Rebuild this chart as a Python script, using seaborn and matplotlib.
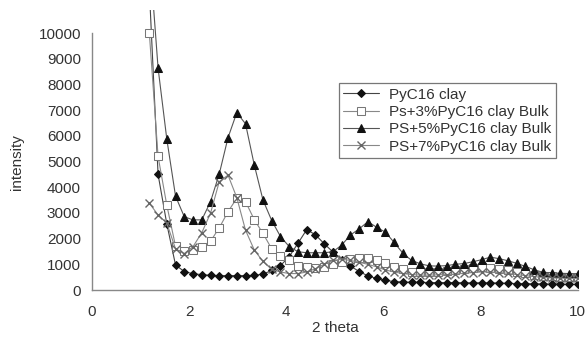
import numpy as np
import pandas as pd
import matplotlib
matplotlib.use("Agg")
import matplotlib.pyplot as plt
import seaborn as sns

two_theta = [1.18, 1.36, 1.54, 1.72, 1.90, 2.08, 2.26, 2.44, 2.62, 2.80,
             2.98, 3.16, 3.34, 3.52, 3.70, 3.88, 4.06, 4.24, 4.42, 4.60,
             4.78, 4.96, 5.14, 5.32, 5.50, 5.68, 5.86, 6.04, 6.22, 6.40,
             6.58, 6.76, 6.94, 7.12, 7.30, 7.48, 7.66, 7.84, 8.02, 8.20,
             8.38, 8.56, 8.74, 8.92, 9.10, 9.28, 9.46, 9.64, 9.82, 10.00]

pyc16_clay = [11700, 4500, 2570, 970, 720, 630, 600, 570, 560, 560,
              560, 560, 570, 620, 760, 950, 1300, 1820, 2350, 2150,
              1800, 1480, 1180, 930, 720, 550, 450, 370, 330, 310,
              300, 300, 290, 290, 290, 290, 280, 280, 280, 280,
              270, 260, 250, 250, 240, 240, 230, 230, 220, 220]

ps3_bulk = [10000, 5200, 3300, 1700, 1500, 1550, 1690, 1900, 2420, 3050,
            3570, 3440, 2740, 2200, 1600, 1320, 1150, 950, 880, 870,
            900, 1000, 1100, 1200, 1250, 1250, 1180, 1050, 900, 800,
            720, 700, 700, 720, 750, 780, 820, 850, 880, 860,
            830, 780, 720, 650, 600, 560, 540, 520, 500, 500]

ps5_bulk = [13200, 8640, 5870, 3650, 2850, 2730, 2730, 3440, 4520, 5930,
            6900, 6470, 4870, 3500, 2700, 2080, 1690, 1490, 1450, 1450,
            1450, 1490, 1750, 2140, 2380, 2660, 2440, 2250, 1850, 1430,
            1150, 1020, 940, 930, 950, 1000, 1030, 1100, 1180, 1280,
            1220, 1140, 1040, 920, 790, 690, 670, 650, 640, 620]

ps7_bulk = [3380, 2920, 2600, 1600, 1420, 1690, 2230, 2990, 4220, 4470,
            3600, 2330, 1560, 1110, 800, 700, 640, 640, 700, 830,
            1000, 1150, 1200, 1150, 1080, 1000, 900, 780, 700, 640,
            600, 580, 580, 590, 600, 620, 650, 680, 700, 700,
            680, 650, 600, 560, 520, 490, 470, 460, 450, 450]

series_labels = ["PyC16 clay", "Ps+3%PyC16 clay Bulk",
                 "PS+5%PyC16 clay Bulk", "PS+7%PyC16 clay Bulk"]
x_ticks = [0, 2, 4, 6, 8, 10]
y_ticks = [0, 1000, 2000, 3000, 4000, 5000, 6000, 7000, 8000, 9000, 10000]

sns.set_style("white")
plt.rcParams["font.family"] = ["Liberation Sans", "DejaVu Sans"]
plt.rcParams["font.size"] = 11
text_col = "#333333"

fig = plt.figure(figsize=(5.86, 3.43), dpi=100)
ax = fig.add_axes([0.157, 0.1545, 0.829, 0.8165])

styles = [
    dict(marker="D", markersize=4.2, markerfacecolor="#111111", markeredgecolor="#111111", color="#444444"),
    dict(marker="s", markersize=5.2, markerfacecolor="white", markeredgecolor="#777777", color="#888888"),
    dict(marker="^", markersize=5.8, markerfacecolor="#111111", markeredgecolor="#111111", color="#555555"),
    dict(marker="x", markersize=6.0, markerfacecolor="none", markeredgecolor="#666666", markeredgewidth=1.0, color="#888888"),
]
all_series = [pyc16_clay, ps3_bulk, ps5_bulk, ps7_bulk]

for vals, lab, st in zip(all_series, series_labels, styles):
    df = pd.DataFrame({"two_theta": two_theta, "intensity": vals})
    sns.lineplot(data=df, x="two_theta", y="intensity", ax=ax, label=lab,
                 linewidth=0.8, **st)

ax.set_xlim(0, 10)
ax.set_ylim(0, 10900)
ax.set_xticks(x_ticks)
ax.set_yticks(y_ticks)
ax.set_xticklabels([str(t) for t in x_ticks])
ax.set_yticklabels([str(t) for t in y_ticks])
ax.spines["top"].set_visible(False)
ax.spines["right"].set_visible(False)
ax.spines["left"].set_bounds(0, 10000)
for s in ("left", "bottom"):
    ax.spines[s].set_color("#888888")
    ax.spines[s].set_linewidth(1.0)
ax.tick_params(axis="both", colors="#888888", labelcolor=text_col,
               direction="out", length=3, width=1.0, labelsize=11)
ax.tick_params(axis="y", pad=5)
ax.tick_params(axis="x", pad=8)

ax.set_xlabel("2 theta", color=text_col, fontsize=11)
ax.set_ylabel("intensity", color=text_col, fontsize=11)
ax.xaxis.set_label_coords(0.5, -0.11)
ax.yaxis.set_label_coords(-0.14, 0.457)

handles, labels = ax.get_legend_handles_labels()
leg = ax.legend(handles, labels, loc="upper left", bbox_to_anchor=(0.508, 0.739),
                bbox_transform=ax.transAxes, borderaxespad=0, frameon=True,
                fancybox=False, shadow=False, handlelength=2.3, handletextpad=0.7,
                labelspacing=0.22, borderpad=0.3, fontsize=11)
leg.get_frame().set_edgecolor("#555555")
leg.get_frame().set_linewidth(0.9)
for t in leg.get_texts():
    t.set_color(text_col)

fig.savefig("out.png", dpi=100)
